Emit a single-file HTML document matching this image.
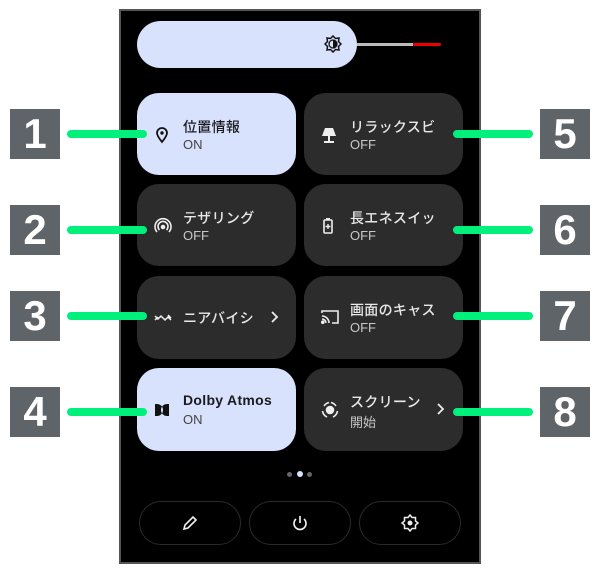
<!DOCTYPE html><html><head><meta charset="utf-8"><style>
body{margin:0;width:600px;height:573px;background:#fff;position:relative;overflow:hidden;font-family:"Liberation Sans","Noto Sans CJK JP",sans-serif}
.scr{position:absolute;left:119px;top:9px;width:358px;height:551px;background:#000;border:2px solid #555}
.a{position:absolute}
.t{position:absolute;border-radius:22px;background:#2c2c2c;color:#e8e8e8}
.t.on{background:#d9e2fc;color:#1b1b1f}
.t .h{position:absolute;left:46px;top:24px;font-size:14px;white-space:nowrap;letter-spacing:.3px;font-weight:500}
.t .s{position:absolute;left:46px;top:44px;font-size:13px;color:#c8c8c8}
.t.on .s{color:#444}
.t svg{position:absolute;left:17px;top:33px}
.n{position:absolute;width:50px;height:50px;background:#5f6468;color:#fff;font-weight:bold;font-size:42px;line-height:50px;text-align:center}
.g{position:absolute;height:8px;background:#00f07c;border-radius:4px}
.b{position:absolute;top:501px;width:100px;height:42px;border:1px solid #2a2a2a;border-radius:22px;color:#ddd;text-align:center}
.b svg{margin-top:12px}
</style></head><body>
<div class="scr"></div>
<div class="a" style="left:137px;top:21px;width:220px;height:47px;border-radius:24px;background:#d9e2fc"></div>
<svg class="a" style="left:324px;top:35px" width="18" height="18" viewBox="0 0 18 18"><polygon points="9,1 11.5,3.5 15,3 14.5,6.5 17,9 14.5,11.5 15,15 11.5,14.5 9,17 6.5,14.5 3,15 3.5,11.5 1,9 3.5,6.5 3,3 6.5,3.5" fill="none" stroke="#111" stroke-width="1.5"/><path d="M9 5a4 4 0 0 1 0 8z" fill="#111"/><circle cx="9" cy="9" r="4" fill="none" stroke="#111" stroke-width="1.3"/></svg>
<div class="a" style="left:357px;top:43px;width:56px;height:3px;background:#bbb"></div>
<div class="a" style="left:413px;top:43px;width:28px;height:3px;background:#e00;border-radius:2px"></div>

<div class="t on" style="left:137px;top:93px;width:159px;height:82px"><svg width="16" height="18" viewBox="0 0 16 18"><path d="M8 16C4 11 3 9 3 7a5 5 0 0 1 10 0c0 2-1 4-5 9z" fill="none" stroke="#111" stroke-width="1.8"/><circle cx="8" cy="7" r="1.7" fill="#111"/></svg><div class="h">位置情報</div><div class="s">ON</div></div>
<div class="t" style="left:304px;top:93px;width:159px;height:82px"><svg width="16" height="18" viewBox="0 0 16 18"><path d="M4 2h8l3 8H1z" fill="#eee"/><rect x="7" y="10" width="2" height="5" fill="#eee"/><rect x="3" y="15" width="10" height="2" fill="#eee"/></svg><div class="h">リラックスビ</div><div class="s">OFF</div></div>
<div class="t" style="left:137px;top:184px;width:159px;height:82px"><svg width="18" height="18" viewBox="0 0 18 18" fill="none" stroke="#eee" stroke-width="1.6"><path d="M3 15a8 8 0 1 1 12 0"/><path d="M5.5 13a5 5 0 1 1 7 0"/><circle cx="9" cy="10" r="1.5" fill="#eee"/></svg><div class="h">テザリング</div><div class="s">OFF</div></div>
<div class="t" style="left:304px;top:184px;width:159px;height:82px"><svg width="14" height="18" viewBox="0 0 14 18"><rect x="3" y="3" width="8" height="13" rx="1" fill="none" stroke="#eee" stroke-width="1.6"/><rect x="5" y="1" width="4" height="2" fill="#eee"/><path d="M7 7v5M4.5 9.5h5" stroke="#eee" stroke-width="1.4"/></svg><div class="h">長エネスイッ</div><div class="s">OFF</div></div>
<div class="t" style="left:137px;top:276px;width:159px;height:83px"><svg width="18" height="18" viewBox="0 0 18 18" fill="none" stroke="#eee" stroke-width="1.5" style="top:33px"><path d="M1 7l3 3 3-3 4 4 3-3 3 3M1 11l3-3M14 6l3 3"/></svg><div class="h" style="top:32px">ニアバイシ</div><svg width="10" height="14" viewBox="0 0 10 14" style="left:132px;top:34px"><path d="M3 2l5 5-5 5" fill="none" stroke="#eee" stroke-width="1.8"/></svg></div>
<div class="t" style="left:304px;top:276px;width:159px;height:83px"><svg width="18" height="16" viewBox="0 0 18 16" fill="none" stroke="#eee" stroke-width="1.6"><path d="M1 4V2h16v12h-6"/><path d="M1 7a7 7 0 0 1 7 7M1 10a4 4 0 0 1 4 4"/><circle cx="1.8" cy="13.2" r="1" fill="#eee"/></svg><div class="h">画面のキャス</div><div class="s">OFF</div></div>
<div class="t on" style="left:137px;top:368px;width:159px;height:83px"><svg width="16" height="14" viewBox="0 0 16 14" style="top:35px"><path d="M1 1h2a6 6 0 0 1 0 12H1zM15 1h-2a6 6 0 0 0 0 12h2z" fill="#111"/></svg><div class="h" style="font-weight:bold;font-size:14px">Dolby Atmos</div><div class="s">ON</div></div>
<div class="t" style="left:304px;top:368px;width:159px;height:83px"><svg width="18" height="18" viewBox="0 0 18 18" fill="none" stroke="#eee" stroke-width="1.6"><path d="M3 5a8 8 0 0 1 5-3.5M10 1.5A8 8 0 0 1 15 5M16.5 10A8 8 0 0 1 12 16M6 16a8 8 0 0 1-4.5-6"/><circle cx="9" cy="9" r="3.5" fill="#eee"/></svg><div class="h">スクリーン</div><div class="s">開始</div><svg width="10" height="14" viewBox="0 0 10 14" style="left:131px;top:34px"><path d="M3 2l5 5-5 5" fill="none" stroke="#eee" stroke-width="1.8"/></svg></div>

<div class="a" style="left:287px;top:472px;width:5px;height:5px;border-radius:3px;background:#666"></div>
<div class="a" style="left:297px;top:471px;width:6px;height:6px;border-radius:3px;background:#d9e2fc"></div>
<div class="a" style="left:307px;top:472px;width:5px;height:5px;border-radius:3px;background:#666"></div>
<div class="b" style="left:139px"><svg width="18" height="18" viewBox="0 0 18 18"><path d="M3 15l1-4 8-8 3 3-8 8z" fill="none" stroke="#eee" stroke-width="1.6"/></svg></div>
<div class="b" style="left:249px"><svg width="18" height="18" viewBox="0 0 18 18" fill="none" stroke="#eee" stroke-width="1.7"><path d="M9 2v7"/><path d="M5 5a6 6 0 1 0 8 0"/></svg></div>
<div class="b" style="left:359px"><svg width="18" height="18" viewBox="0 0 18 18"><polygon points="9,1 11,3.5 14.5,3.5 14.5,7 17,9 14.5,11 14.5,14.5 11,14.5 9,17 7,14.5 3.5,14.5 3.5,11 1,9 3.5,7 3.5,3.5 7,3.5" fill="none" stroke="#eee" stroke-width="1.5"/><circle cx="9" cy="9" r="2.5" fill="#eee"/></svg></div>

<div class="n" style="left:10px;top:109px">1</div><div class="g" style="left:67px;top:130px;width:80px"></div>
<div class="n" style="left:10px;top:205px">2</div><div class="g" style="left:67px;top:226px;width:80px"></div>
<div class="n" style="left:10px;top:291px">3</div><div class="g" style="left:67px;top:312px;width:80px"></div>
<div class="n" style="left:10px;top:387px">4</div><div class="g" style="left:67px;top:408px;width:80px"></div>
<div class="n" style="left:540px;top:109px">5</div><div class="g" style="left:453px;top:130px;width:80px"></div>
<div class="n" style="left:540px;top:205px">6</div><div class="g" style="left:453px;top:226px;width:80px"></div>
<div class="n" style="left:540px;top:291px">7</div><div class="g" style="left:453px;top:312px;width:80px"></div>
<div class="n" style="left:540px;top:387px">8</div><div class="g" style="left:453px;top:408px;width:80px"></div>
</body></html>
